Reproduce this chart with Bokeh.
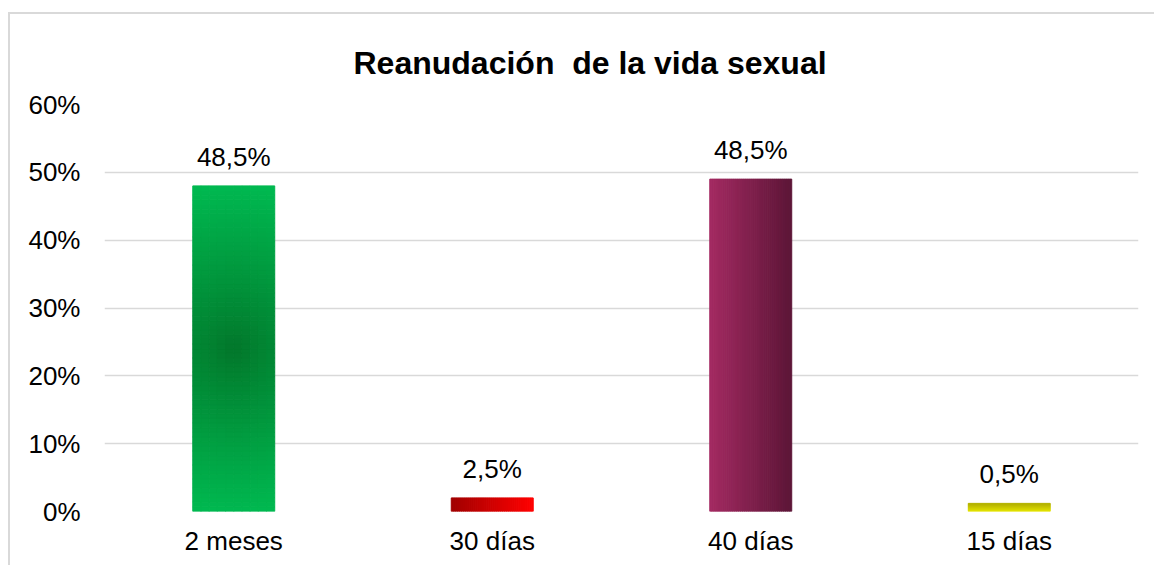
import numpy as np
from bokeh.plotting import figure
from bokeh.models import FixedTicker, Title, ColumnDataSource
from bokeh.core.properties import value
from bokeh.embed import file_html
from bokeh.resources import INLINE

# ---- data ----
categories = ["2 meses", "30 días", "40 días", "15 días"]
bar_values = [48.0, 2.0, 49.0, 1.2]          # bar heights as drawn (%)
label_texts = ["48,5%", "2,5%", "48,5%", "0,5%"]
y_ticks = [0, 10, 20, 30, 40, 50, 60]
y_tick_labels = ["0%", "10%", "20%", "30%", "40%", "50%", "60%"]
title_text = "Reanudación\u00a0 de la vida sexual"

FONT = "Liberation Sans"
BAR_W = 0.317

p = figure(width=1144, height=551, output_backend="svg", toolbar_location=None,
           x_range=(-0.5, 3.5), y_range=(0, 60),
           min_border_left=94, min_border_right=16, min_border_top=90, min_border_bottom=54)
p.margin = (14, 0, 0, 10)
p.styles = {"outline": "2px solid #d9d9d9"}
p.outline_line_color = None
p.background_fill_color = "white"
p.border_fill_color = "white"

# grid / axes
p.xgrid.grid_line_color = None
p.ygrid.grid_line_color = "#d9d9d9"
p.ygrid.grid_line_width = 1.5
p.yaxis.ticker = FixedTicker(ticks=y_ticks)
p.yaxis.major_label_overrides = {t: l for t, l in zip(y_ticks, y_tick_labels)}
p.xaxis.ticker = FixedTicker(ticks=list(range(len(categories))))
p.xaxis.major_label_overrides = {i: c for i, c in enumerate(categories)}
for ax in (p.xaxis, p.yaxis):
    ax.axis_line_color = None
    ax.major_tick_line_color = None
    ax.minor_tick_line_color = None
    ax.major_tick_out = 0
    ax.major_tick_in = 0
    ax.major_label_text_font = FONT
    ax.major_label_text_font_size = "26px"
    ax.major_label_text_color = "#000000"
p.yaxis.major_label_standoff = 24
p.xaxis.major_label_standoff = 14


def hexc(rgb):
    return "#%02x%02x%02x" % tuple(int(round(c)) for c in rgb)


def mix(a, b, t):
    return [a[i] + (b[i] - a[i]) * t for i in range(3)]


quads = dict(left=[], right=[], bottom=[], top=[], color=[])


def add(l, r, b, t, c):
    quads["left"].append(l); quads["right"].append(r)
    quads["bottom"].append(b); quads["top"].append(t)
    quads["color"].append(hexc(c))


# bar 0: green radial-ish gradient
x0 = 0; v = bar_values[0]
light = (0, 184, 80); dark = (2, 118, 42)
nc, nr = 10, 70
for i in range(nc):
    for j in range(nr):
        l = x0 - BAR_W / 2 + BAR_W * i / nc
        r = x0 - BAR_W / 2 + BAR_W * (i + 1) / nc
        b = v * j / nr
        t = v * (j + 1) / nr
        u = ((i + 0.5) / nc) * 2 - 1
        w = ((j + 0.5) / nr) * 2 - 1
        d = min(1.0, np.sqrt(w ** 2 + (0.25 * u) ** 2))
        add(l, r, b, t, mix(dark, light, d ** 0.9))

# bar 1: red horizontal gradient
x1 = 1; v = bar_values[1]
n = 40
for i in range(n):
    l = x1 - BAR_W / 2 + BAR_W * i / n
    r = x1 - BAR_W / 2 + BAR_W * (i + 1) / n
    add(l, r, 0, v, mix((160, 0, 0), (255, 0, 0), (i + 0.5) / n))

# bar 2: purple horizontal gradient
x2 = 2; v = bar_values[2]
for i in range(n):
    l = x2 - BAR_W / 2 + BAR_W * i / n
    r = x2 - BAR_W / 2 + BAR_W * (i + 1) / n
    add(l, r, 0, v, mix((164, 42, 98), (92, 22, 55), (i + 0.5) / n))

# bar 3: yellow vertical gradient (dark top -> bright bottom)
x3 = 3; v = bar_values[3]
m = 8
for j in range(m):
    b = v * j / m
    t = v * (j + 1) / m
    add(x3 - BAR_W / 2, x3 + BAR_W / 2, b, t, mix((232, 232, 0), (178, 176, 0), (j + 0.5) / m))

src = ColumnDataSource(quads)
p.quad(left="left", right="right", bottom="bottom", top="top", source=src,
       fill_color="color", line_color="color", line_width=1)

lab = ColumnDataSource(dict(x=list(range(len(categories))), y=bar_values, t=label_texts))
p.text(x="x", y="y", text="t", source=lab, text_align="center", text_baseline="alphabetic",
       y_offset=-29, text_font=value(FONT), text_font_size="26px", text_color="#000000")

title = Title(text=title_text, align="left", offset=249,
              text_font=FONT, text_font_size="32px", text_font_style="bold",
              text_color="#000000", standoff=47)
p.add_layout(title, "above")

open("out.html", "w").write(file_html(p, INLINE))
